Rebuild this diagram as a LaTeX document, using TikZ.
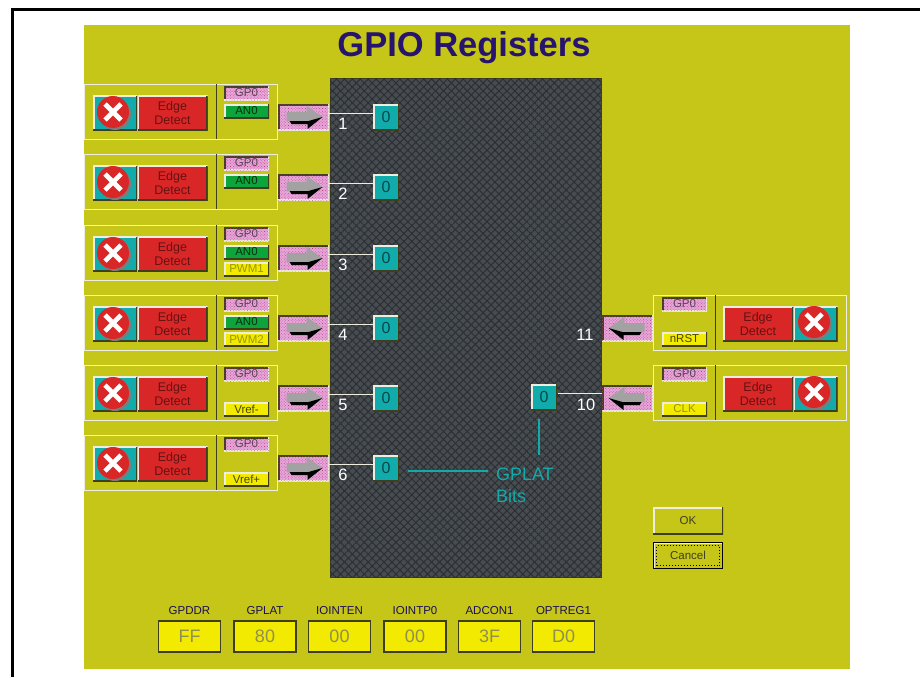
\documentclass[tikz,border=0pt]{standalone}
\usepackage{fontspec}
\setmainfont{Liberation Sans}
\usetikzlibrary{patterns.meta}

\definecolor{boardcol}{HTML}{C6C618}
\definecolor{inkblue}{HTML}{26146E}
\definecolor{areacol}{HTML}{474C51}
\definecolor{areadark}{HTML}{2C3034}
\definecolor{tealcol}{HTML}{12ABAB}
\definecolor{tealdark}{HTML}{064848}
\definecolor{redcol}{HTML}{D92727}
\definecolor{reddark}{HTML}{661212}
\definecolor{yellowcol}{HTML}{F2EA00}
\definecolor{greencol}{HTML}{0DA53B}
\definecolor{pinkcol}{HTML}{E6A6D8}
\definecolor{pinkdot}{HTML}{B8388F}
\definecolor{edgedark}{HTML}{3F3F20}
\definecolor{edgelight}{HTML}{EDEDE0}
\definecolor{greyface}{HTML}{A2A2A2}
\definecolor{shadecol}{HTML}{7C7C7C}
\definecolor{regtext}{HTML}{8F8F50}

\tikzset{
  raised/.style={path picture={
    \draw[edgelight,line width=3pt] (path picture bounding box.south west) |- (path picture bounding box.north east);
    \draw[edgedark,line width=3pt] (path picture bounding box.south west) -| (path picture bounding box.north east);
  }},
  sunken/.style={path picture={
    \draw[edgedark,line width=3pt] (path picture bounding box.south west) |- (path picture bounding box.north east);
    \draw[edgelight,line width=3pt] (path picture bounding box.south west) -| (path picture bounding box.north east);
  }},
  box/.style={rectangle,inner sep=0pt,outer sep=0pt},
  panel/.style={box,draw=edgelight,line width=1pt,minimum width=193pt,minimum height=55pt},
  crossbtn/.style={box,raised,fill=tealcol,minimum width=44pt,minimum height=35pt},
  edgebtn/.style={box,raised,fill=redcol,minimum width=70pt,minimum height=35pt,align=center,text=reddark,
    font=\fontsize{12.5}{14}\selectfont},
  tag/.style={box,minimum width=45pt,minimum height=14pt,font=\fontsize{11.5}{12}\selectfont},
  gptag/.style={tag,sunken,fill=pinkcol,text=black!60!pinkcol,
    postaction={pattern={Dots[distance=2pt,radius=.45pt,angle=45]},pattern color=pinkdot}},
  antag/.style={tag,raised,fill=greencol,text=black!70!greencol},
  pwmtag/.style={tag,raised,fill=yellowcol,text=black!35!yellowcol},
  vreftag/.style={tag,raised,fill=yellowcol,text=black!70!yellowcol},
  pinbox/.style={box,sunken,fill=pinkcol,minimum width=51pt,minimum height=26pt,
    postaction={pattern={Dots[distance=2pt,radius=.45pt,angle=45]},pattern color=pinkdot}},
  bitbox/.style={box,raised,fill=tealcol,text=tealdark,minimum width=26pt,minimum height=26pt,
    font=\fontsize{16}{16}\selectfont},
  pinnum/.style={box,text=white,font=\fontsize{16.5}{16}\selectfont},
  reglabel/.style={box,text=inkblue!75!black,font=\fontsize{11.5}{12}\selectfont},
  regbox/.style={box,draw=edgedark,line width=1.2pt,fill=yellowcol,text=regtext,
    minimum width=62pt,minimum height=31pt,font=\fontsize{18}{18}\selectfont},
  dlgbtn/.style={box,raised,fill=boardcol,text=edgedark,minimum width=70pt,minimum height=27pt,
    font=\fontsize{11.5}{12}\selectfont},
  focusbtn/.style={box,draw=black,line width=1pt,fill=boardcol,text=edgedark,minimum width=69pt,minimum height=26pt,
    font=\fontsize{11.5}{12}\selectfont,
    path picture={\draw[edgelight,line width=3pt] (path picture bounding box.south west) |- (path picture bounding box.north east);
      \draw[black,dotted] ([shift={(3pt,3pt)}]path picture bounding box.south west) rectangle ([shift={(-3pt,-3pt)}]path picture bounding box.north east);}},
  pics/xmark/.style={code={
    \path (0,0);
    \fill[shadecol] (2,2) circle (16);
    \fill[redcol] (0,0) circle (16);
    \draw[white,line width=4.6pt] (-8,-8) -- (8,8) (-8,8) -- (8,-8);
  }},
  pics/pinarrow/.style={code={
    \path (0,0);
    \fill[greyface] (-17,-5) -- (3,-5) -- (3,-11) -- (19,0) -- (9,5) -- (-17,4) -- cycle;
    \fill[black] (-14,4) -- (5,4) -- (19,0) -- (4,12) -- (4,7) -- (-12,7) -- cycle;
  }},
}

\begin{document}
\begin{tikzpicture}[x=1pt,y=-1pt]
  \useasboundingbox (0,0) rectangle (920,677);

  \draw[black,line width=3pt] (12.5,677) |- (920,9.5);
  \node[box,fill=boardcol,minimum width=766pt,minimum height=644pt] (board) at (467,347) {};
  \node[box,text=inkblue,font=\fontsize{34.5}{35}\selectfont\bfseries] (title) at (464,48) {GPIO Registers};

  % dark area
  \node[box,draw=edgedark,fill=areacol,minimum width=271pt,minimum height=499pt,
    postaction={pattern={Lines[angle=45,distance=5.6pt,line width=1pt]},pattern color=areadark},
    postaction={pattern={Lines[angle=-45,distance=5.6pt,line width=1pt]},pattern color=areadark}] (area) at (465.5,327.5) {};

  \begin{scope}[every node/.style={panel}]
    \node (panel1)  at (180.5,111.5) {};
    \node (panel2)  at (180.5,181.5) {};
    \node (panel3)  at (180.5,252.5) {};
    \node (panel4)  at (180.5,322.5) {};
    \node (panel5)  at (180.5,392.5) {};
    \node (panel6)  at (180.5,462.5) {};
    \node (panel11) at (750,322.5) {};
    \node (panel10) at (750,392.5) {};
  \end{scope}

  \begin{scope}[every edge/.style={draw=edgedark,line width=1pt}]
    \path ([xshift=35.5pt]panel1.north)  edge ([xshift=35.5pt]panel1.south);
    \path ([xshift=35.5pt]panel2.north)  edge ([xshift=35.5pt]panel2.south);
    \path ([xshift=35.5pt]panel3.north)  edge ([xshift=35.5pt]panel3.south);
    \path ([xshift=35.5pt]panel4.north)  edge ([xshift=35.5pt]panel4.south);
    \path ([xshift=35.5pt]panel5.north)  edge ([xshift=35.5pt]panel5.south);
    \path ([xshift=35.5pt]panel6.north)  edge ([xshift=35.5pt]panel6.south);
    \path ([xshift=-35pt]panel11.north) edge ([xshift=-35pt]panel11.south);
    \path ([xshift=-35pt]panel10.north) edge ([xshift=-35pt]panel10.south);
  \end{scope}

  \begin{scope}[every node/.style={crossbtn}]
    \node (cross1)  at (115,113) {};
    \node (cross2)  at (115,183) {};
    \node (cross3)  at (115,254) {};
    \node (cross4)  at (115,324) {};
    \node (cross5)  at (115,394) {};
    \node (cross6)  at (115,464) {};
    \node (cross11) at (815.5,324) {};
    \node (cross10) at (815.5,394) {};
  \end{scope}

  \pic at (113,112) {xmark};
  \pic at (113,182) {xmark};
  \pic at (113,253) {xmark};
  \pic at (113,323) {xmark};
  \pic at (113,393) {xmark};
  \pic at (113,463) {xmark};
  \pic at (814,322) {xmark};
  \pic at (814,392) {xmark};

  \begin{scope}[every node/.style={edgebtn}]
    \node (edge1)  at (172.5,113) {Edge\\Detect};
    \node (edge2)  at (172.5,183) {Edge\\Detect};
    \node (edge3)  at (172.5,254) {Edge\\Detect};
    \node (edge4)  at (172.5,324) {Edge\\Detect};
    \node (edge5)  at (172.5,394) {Edge\\Detect};
    \node (edge6)  at (172.5,464) {Edge\\Detect};
    \node (edge11) at (758,324) {Edge\\Detect};
    \node (edge10) at (758,394) {Edge\\Detect};
  \end{scope}

  \begin{scope}[every node/.style={gptag}]
    \node (gp1)  at (246.5,93)  {GP0};
    \node (gp2)  at (246.5,163) {GP0};
    \node (gp3)  at (246.5,234) {GP0};
    \node (gp4)  at (246.5,304) {GP0};
    \node (gp5)  at (246.5,374) {GP0};
    \node (gp6)  at (246.5,444) {GP0};
    \node (gp11) at (684.5,304) {GP0};
    \node (gp10) at (684.5,374) {GP0};
  \end{scope}

  \begin{scope}[every node/.style={antag}]
    \node (an1) at (246.5,111) {AN0};
    \node (an2) at (246.5,181) {AN0};
    \node (an3) at (246.5,252) {AN0};
    \node (an4) at (246.5,322) {AN0};
  \end{scope}

  \node[pwmtag]  (pwm1) at (246.5,269) {PWM1};
  \node[pwmtag]  (pwm2) at (246.5,339) {PWM2};
  \node[vreftag] (vrefm) at (246.5,409) {Vref-};
  \node[vreftag] (vrefp) at (246.5,479) {Vref+};
  \node[vreftag] (nrst) at (684.5,339) {nRST};
  \node[pwmtag]  (clk)  at (684.5,409) {CLK};

  \begin{scope}[every node/.style={pinbox}]
    \node (pin1)  at (303.5,117) {};
    \node (pin2)  at (303.5,187) {};
    \node (pin3)  at (303.5,258) {};
    \node (pin4)  at (303.5,328) {};
    \node (pin5)  at (303.5,398) {};
    \node (pin6)  at (303.5,468) {};
    \node (pin11) at (627.5,328) {};
    \node (pin10) at (627.5,398) {};
  \end{scope}

  \pic at (303.5,117) {pinarrow};
  \pic at (303.5,187) {pinarrow};
  \pic at (303.5,258) {pinarrow};
  \pic at (303.5,328) {pinarrow};
  \pic at (303.5,398) {pinarrow};
  \pic at (303.5,468) {pinarrow};
  \pic[xscale=-1] at (627.5,328) {pinarrow};
  \pic[xscale=-1] at (627.5,398) {pinarrow};

  \begin{scope}[every node/.style={bitbox}]
    \node (bit1)  at (386,117) {0};
    \node (bit2)  at (386,187) {0};
    \node (bit3)  at (386,258) {0};
    \node (bit4)  at (386,328) {0};
    \node (bit5)  at (386,398) {0};
    \node (bit6)  at (386,468) {0};
    \node (bit10) at (544,397) {0};
  \end{scope}

  \begin{scope}[every node/.style={pinnum}]
    \node (num1)  at (343,124) {1};
    \node (num2)  at (343,194) {2};
    \node (num3)  at (343,265) {3};
    \node (num4)  at (343,335) {4};
    \node (num5)  at (343,405) {5};
    \node (num6)  at (343,475) {6};
    \node (num11) at (585,335) {11};
    \node (num10) at (586,405) {10};
  \end{scope}

  \begin{scope}[every edge/.style={draw=edgelight,line width=1pt}]
    \path ([yshift=4pt]pin1.east) edge ([yshift=4pt]bit1.west);
    \path ([yshift=4pt]pin2.east) edge ([yshift=4pt]bit2.west);
    \path ([yshift=4pt]pin3.east) edge ([yshift=4pt]bit3.west);
    \path ([yshift=4pt]pin4.east) edge ([yshift=4pt]bit4.west);
    \path ([yshift=4pt]pin5.east) edge ([yshift=4pt]bit5.west);
    \path ([yshift=4pt]pin6.east) edge ([yshift=4pt]bit6.west);
    \path ([yshift=5pt]pin10.west) edge ([xshift=1pt,yshift=4pt]bit10.east);
  \end{scope}

  % GPLAT note
  \node[box,anchor=west,text=tealcol,font=\fontsize{18}{18}\selectfont] (gplat) at (496,474) {GPLAT};
  \node[box,anchor=west,text=tealcol,font=\fontsize{18}{18}\selectfont] (bits) at (496,496) {Bits};
  \begin{scope}[every edge/.style={draw=tealcol,line width=1.4pt}]
    \path ([xshift=9pt,yshift=-3pt]bit6.east) edge ([xshift=-8pt,yshift=3pt]gplat.west);
    \path ([xshift=-5pt,yshift=-9pt]bit10.south) edge ([xshift=43pt,yshift=13pt]gplat.north west);
  \end{scope}

  \node[dlgbtn]   (ok)     at (688,520.5) {OK};
  \node[focusbtn] (cancel) at (688,555.5) {Cancel};

  \begin{scope}[every node/.style={reglabel}]
    \node (gpddrl)   at (189.5,611) {GPDDR};
    \node (gplatl)   at (265,611)   {GPLAT};
    \node (iointenl) at (339.5,611) {IOINTEN};
    \node (iointpl)  at (415,611)   {IOINTP0};
    \node (adconl)   at (489.5,611) {ADCON1};
    \node (optregl)  at (563.5,611) {OPTREG1};
  \end{scope}

  \begin{scope}[every node/.style={regbox}]
    \node (gpddr)   at (189.5,636.5) {FF};
    \node (gplatr)  at (265,636.5)   {80};
    \node (iointen) at (339.5,636.5) {00};
    \node (iointp)  at (415,636.5)   {00};
    \node (adcon)   at (489.5,636.5) {3F};
    \node (optreg)  at (563.5,636.5) {D0};
  \end{scope}

\end{tikzpicture}
\end{document}
